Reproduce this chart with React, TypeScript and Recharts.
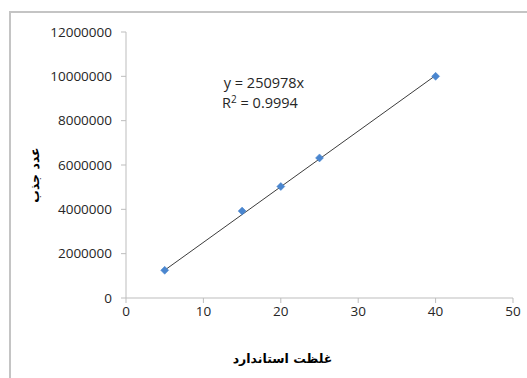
import React from "react";
import {
  ScatterChart, Scatter, XAxis, YAxis, Label,
} from "recharts";

// standard concentration (x) vs absorbance count (y)
const concentrations = [5, 15, 20, 25, 40];
const absorbance = [1250000, 3920000, 5030000, 6320000, 10000000];

const xTicks = [0, 10, 20, 30, 40, 50];
const yTicks = [0, 2000000, 4000000, 6000000, 8000000, 10000000, 12000000];

// trendline through origin, as printed on the chart
const slope = 250978;
const rSquared = "0.9994";

const points = concentrations.map((x, i) => ({ x, y: absorbance[i] }));
const xMin = Math.min(...concentrations);
const xMax = Math.max(...concentrations);
const trend = [
  { x: xMin, y: slope * xMin },
  { x: xMax, y: slope * xMax },
];

const FONT = "'Open Sans', 'Liberation Sans', sans-serif";
const axisColor = "#bdbdbd";

function Diamond(props: any) {
  const { cx, cy } = props;
  if (cx == null || cy == null) return null;
  const r = 4;
  return (
    <polygon
      points={`${cx},${cy - r} ${cx + r},${cy} ${cx},${cy + r} ${cx - r},${cy}`}
      fill="#4a86cf"
      stroke="#4a86cf"
      strokeWidth={0.5}
    />
  );
}

export default function App() {
  return (
    <div style={{ position: "absolute", left: 0, top: 0, width: 527, height: 378, overflow: "hidden", background: "#fff" }}>
      <div
        style={{
          position: "absolute", left: 9, top: 11, width: 600, height: 420,
          borderLeft: "2px solid #c4c4c4", borderTop: "2px solid #c4c4c4",
        }}
      />
      <ScatterChart
        width={527}
        height={378}
        margin={{ top: 32, right: 14, bottom: 50, left: 10 }}
        style={{ position: "absolute", left: 0, top: 0, fontFamily: FONT }}
      >
        <XAxis
          type="number"
          dataKey="x"
          domain={[0, 50]}
          ticks={xTicks}
          interval={0}
          height={30}
          stroke={axisColor}
          tickSize={5}
          tickMargin={3}
          tick={{ fontSize: 13.5, fill: "#262626" }}
        >
          <Label
            value="غلظت استاندارد"
            position="bottom"
            offset={26}
            dx={-37}
            style={{ fontSize: 12.5, fontWeight: "bold", fill: "#000", fontFamily: "'DejaVu Sans', sans-serif" }}
          />
        </XAxis>
        <YAxis
          type="number"
          dataKey="y"
          domain={[0, 12000000]}
          ticks={yTicks}
          interval={0}
          width={116}
          stroke={axisColor}
          tickSize={5}
          tickMargin={9}
          tick={{ fontSize: 13.5, fill: "#262626" }}
        >
          <Label
            value="عدد جذب"
            angle={-90}
            position="insideLeft"
            offset={25}
            dy={10}
            style={{ fontSize: 12.5, fontWeight: "bold", fill: "#000", textAnchor: "middle", fontFamily: "'DejaVu Sans', sans-serif" }}
          />
        </YAxis>
        <Scatter
          data={trend}
          line={{ stroke: "#3c3c3c", strokeWidth: 1 }}
          shape={() => null}
          isAnimationActive={false}
        />
        <Scatter data={points} shape={Diamond} isAnimationActive={false} />
        <text x={264} y={88} textAnchor="middle" fontSize={14.5} fill="#262626" fontFamily={FONT}>
          {`y = ${slope}x`}
        </text>
        <text x={260} y={108} textAnchor="middle" fontSize={14.5} fill="#262626" fontFamily={FONT}>
          R<tspan dy={-5} fontSize={10}>2</tspan><tspan dy={5}>{` = ${rSquared}`}</tspan>
        </text>
      </ScatterChart>
    </div>
  );
}
